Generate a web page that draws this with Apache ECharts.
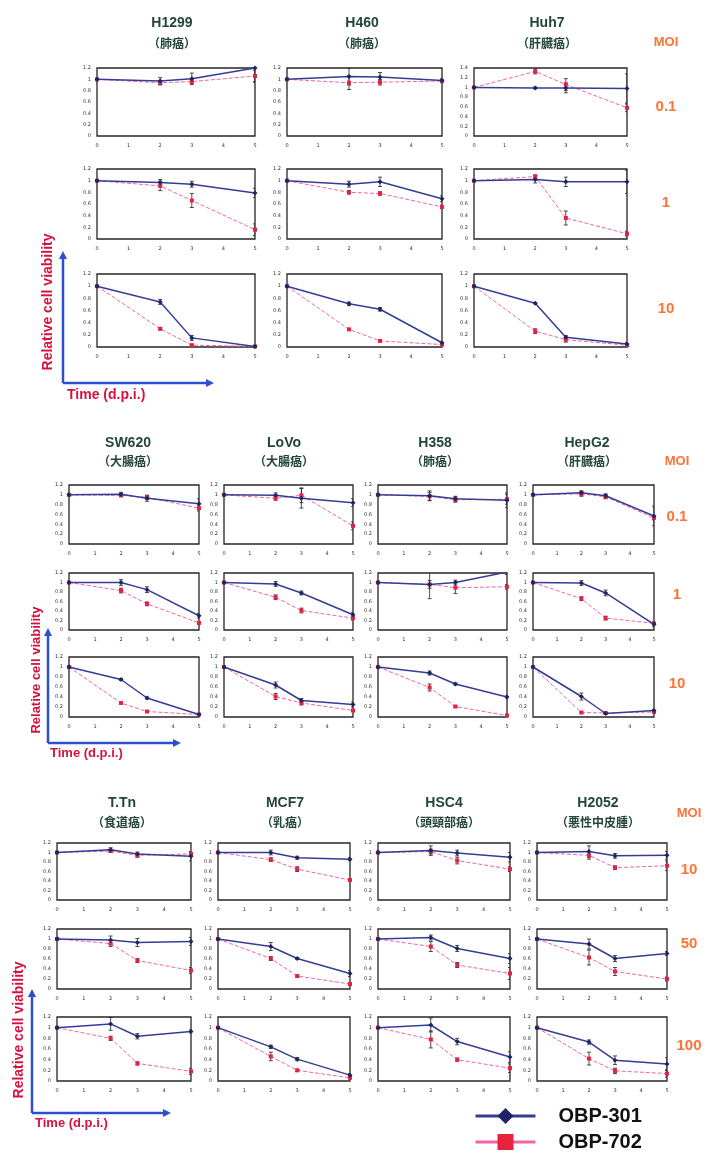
<!DOCTYPE html>
<html>
<head>
<meta charset="utf-8">
<script src="https://cdn.jsdelivr.net/npm/echarts@6/dist/echarts.min.js"></script>
<style>
  html, body { margin: 0; padding: 0; background: #fff; }
  #chart { width: 706px; height: 1153px; }
</style>
</head>
<body>
<div id="chart"></div>
<script>
// days post infection, shared by every small plot
const days = [0, 2, 3, 5];

// ---- panel 1 : rows = MOI, cols = cell lines ----
const p1Cells = ['H1299', 'H460', 'Huh7'];
const p1Types = ['（肺癌）', '（肺癌）', '（肝臓癌）'];
const p1Moi = ['0.1', '1', '10'];
const p1Obp301 = [
  [[1, 0.97, 1.01, 1.2], [1, 1.05, 1.04, 0.98], [1, 0.99, 0.99, 0.98]],
  [[1, 0.97, 0.94, 0.79], [1, 0.94, 0.98, 0.69], [1, 1.02, 0.98, 0.98]],
  [[1, 0.74, 0.15, 0.01], [1, 0.71, 0.62, 0.07], [1, 0.72, 0.16, 0.05]]
];
const p1Obp702 = [
  [[1, 0.94, 0.96, 1.06], [1, 0.94, 0.95, 0.97], [1, 1.33, 1.06, 0.58]],
  [[1, 0.91, 0.66, 0.16], [1, 0.80, 0.78, 0.55], [1, 1.07, 0.36, 0.09]],
  [[1, 0.30, 0.03, 0.01], [1, 0.29, 0.10, 0.04], [1, 0.26, 0.12, 0.03]]
];
const p1Err301 = [
  [[0, 0.06, 0.10, 0.25], [0, 0.15, 0.08, 0.03], [0, 0.02, 0.10, 0.30]],
  [[0, 0.05, 0.05, 0.08], [0, 0.05, 0.08, 0.05], [0, 0.06, 0.08, 0.20]],
  [[0, 0.04, 0.04, 0.01], [0, 0.03, 0.03, 0.01], [0, 0.01, 0.03, 0.02]]
];
const p1Err702 = [
  [[0, 0.04, 0.03, 0.10], [0, 0.12, 0.05, 0.03], [0, 0.05, 0.12, 0.08]],
  [[0, 0.08, 0.12, 0.10], [0, 0.03, 0.03, 0.03], [0, 0.03, 0.12, 0.04]],
  [[0, 0.02, 0.01, 0.01], [0, 0.01, 0.01, 0.01], [0, 0.04, 0.04, 0.01]]
];
const p1YMax = [[1.2, 1.2, 1.4], [1.2, 1.2, 1.2], [1.2, 1.2, 1.2]];

// ---- panel 2 ----
const p2Cells = ['SW620', 'LoVo', 'H358', 'HepG2'];
const p2Types = ['（大腸癌）', '（大腸癌）', '（肺癌）', '（肝臓癌）'];
const p2Moi = ['0.1', '1', '10'];
const p2Obp301 = [
  [[1, 1.01, 0.93, 0.82], [1, 0.99, 0.93, 0.84], [1, 0.98, 0.92, 0.89], [1, 1.04, 0.98, 0.57]],
  [[1, 1.00, 0.85, 0.30], [1, 0.97, 0.78, 0.32], [1, 0.96, 1.00, 1.22], [1, 0.99, 0.78, 0.12]],
  [[1, 0.75, 0.38, 0.05], [1, 0.64, 0.33, 0.25], [1, 0.88, 0.66, 0.40], [1, 0.41, 0.07, 0.13]]
];
const p2Obp702 = [
  [[1, 0.99, 0.95, 0.73], [1, 0.93, 0.99, 0.37], [1, 0.97, 0.90, 0.91], [1, 1.02, 0.96, 0.53]],
  [[1, 0.83, 0.55, 0.15], [1, 0.69, 0.41, 0.25], [1, 0.96, 0.89, 0.91], [1, 0.66, 0.25, 0.14]],
  [[1, 0.28, 0.11, 0.05], [1, 0.41, 0.28, 0.13], [1, 0.59, 0.21, 0.03], [1, 0.09, 0.08, 0.10]]
];
const p2Err301 = [
  [[0, 0.04, 0.06, 0.10], [0, 0.05, 0.20, 0.08], [0, 0.10, 0.05, 0.15], [0, 0.04, 0.04, 0.20]],
  [[0, 0.06, 0.06, 0.05], [0, 0.05, 0.04, 0.05], [0, 0.30, 0.05, 0.05], [0, 0.05, 0.06, 0.05]],
  [[0, 0.02, 0.02, 0.02], [0, 0.06, 0.04, 0.05], [0, 0.04, 0.02, 0.02], [0, 0.07, 0.02, 0.02]]
];
const p2Err702 = [
  [[0, 0.03, 0.04, 0.06], [0, 0.04, 0.15, 0.08], [0, 0.08, 0.05, 0.10], [0, 0.05, 0.04, 0.04]],
  [[0, 0.05, 0.04, 0.03], [0, 0.05, 0.05, 0.04], [0, 0.08, 0.12, 0.05], [0, 0.04, 0.04, 0.02]],
  [[0, 0.02, 0.01, 0.01], [0, 0.06, 0.04, 0.02], [0, 0.07, 0.02, 0.01], [0, 0.01, 0.01, 0.01]]
];

// ---- panel 3 ----
const p3Cells = ['T.Tn', 'MCF7', 'HSC4', 'H2052'];
const p3Types = ['（食道癌）', '（乳癌）', '（頭頸部癌）', '（悪性中皮腫）'];
const p3Moi = ['10', '50', '100'];
const p3Obp301 = [
  [[1, 1.06, 0.97, 0.92], [1, 1.00, 0.89, 0.86], [1, 1.04, 0.99, 0.90], [1, 1.02, 0.93, 0.94]],
  [[1, 0.98, 0.93, 0.95], [1, 0.85, 0.61, 0.31], [1, 1.03, 0.81, 0.61], [1, 0.90, 0.61, 0.71]],
  [[1, 1.07, 0.84, 0.93], [1, 0.64, 0.41, 0.11], [1, 1.05, 0.74, 0.45], [1, 0.73, 0.39, 0.32]]
];
const p3Obp702 = [
  [[1, 1.03, 0.94, 0.97], [1, 0.85, 0.65, 0.42], [1, 1.02, 0.83, 0.65], [1, 0.94, 0.68, 0.72]],
  [[1, 0.91, 0.57, 0.37], [1, 0.61, 0.26, 0.10], [1, 0.85, 0.48, 0.31], [1, 0.63, 0.35, 0.20]],
  [[1, 0.80, 0.33, 0.18], [1, 0.46, 0.20, 0.06], [1, 0.78, 0.40, 0.24], [1, 0.42, 0.19, 0.14]]
];
const p3Err301 = [
  [[0, 0.04, 0.04, 0.10], [0, 0.05, 0.03, 0.03], [0, 0.10, 0.06, 0.10], [0, 0.12, 0.05, 0.08]],
  [[0, 0.08, 0.08, 0.08], [0, 0.08, 0.02, 0.06], [0, 0.05, 0.06, 0.10], [0, 0.10, 0.06, 0.04]],
  [[0, 0.12, 0.05, 0.03], [0, 0.03, 0.03, 0.03], [0, 0.13, 0.06, 0.10], [0, 0.04, 0.08, 0.12]]
];
const p3Err702 = [
  [[0, 0.03, 0.04, 0.04], [0, 0.04, 0.05, 0.03], [0, 0.05, 0.07, 0.05], [0, 0.08, 0.04, 0.10]],
  [[0, 0.06, 0.04, 0.06], [0, 0.04, 0.03, 0.02], [0, 0.10, 0.05, 0.12], [0, 0.15, 0.08, 0.04]],
  [[0, 0.04, 0.03, 0.06], [0, 0.08, 0.02, 0.02], [0, 0.16, 0.03, 0.08], [0, 0.12, 0.05, 0.07]]
];

// layout of each block (pixels)
const panels = [
  {
    cells: p1Cells, types: p1Types, moi: p1Moi, v301: p1Obp301, v702: p1Obp702,
    e301: p1Err301, e702: p1Err702, yMax: p1YMax,
    cols: [[97, 255], [287, 442], [474, 627]],
    rows: [[68, 136], [169, 239], [274, 347]],
    titleX: [172, 362, 547], titleY: [23, 43],
    moiX: 666, moiTitleY: 42, moiY: [107, 203, 309],
    yLabel: { x: 48, y: 302, size: 14 }, time: { x: 67, y: 395, size: 14 },
    arrow: { x: 63, y: 383, top: 252, right: 213 }
  },
  {
    cells: p2Cells, types: p2Types, moi: p2Moi, v301: p2Obp301, v702: p2Obp702,
    e301: p2Err301, e702: p2Err702,
    cols: [[69, 199], [224, 353], [378, 507], [533, 654]],
    rows: [[485, 544], [573, 630], [657, 717]],
    titleX: [128, 284, 435, 587], titleY: [443, 461],
    moiX: 677, moiTitleY: 461, moiY: [517, 595, 684],
    yLabel: { x: 36, y: 670, size: 13 }, time: { x: 50, y: 753, size: 13 },
    arrow: { x: 48, y: 743, top: 629, right: 180 }
  },
  {
    cells: p3Cells, types: p3Types, moi: p3Moi, v301: p3Obp301, v702: p3Obp702,
    e301: p3Err301, e702: p3Err702,
    cols: [[57, 191], [218, 350], [378, 510], [537, 667]],
    rows: [[843, 900], [929, 989], [1017, 1081]],
    titleX: [122, 285, 444, 598], titleY: [803, 822],
    moiX: 689, moiTitleY: 813, moiY: [870, 944, 1046],
    yLabel: { x: 19, y: 1030, size: 14 }, time: { x: 35, y: 1123, size: 13 },
    arrow: { x: 32, y: 1113, top: 990, right: 170 }
  }
];

const navy = '#1f2468';
const navyLine = '#353c95';
const red = '#e8213f';
const pink = '#f165a6';
const titleColor = '#24463a';
const moiColor = '#ff7336';
const labelRed = '#d5123d';
const arrowBlue = '#2d4fcf';

const grids = [], xAxes = [], yAxes = [], series = [], graphics = [];

function errorSeries(gi, errData) {
  return {
    type: 'custom', xAxisIndex: gi, yAxisIndex: gi, silent: true, clip: true, z: 3,
    data: errData,
    renderItem: function (params, api) {
      const x = api.value(0);
      const lo = api.coord([x, api.value(1)]);
      const hi = api.coord([x, api.value(2)]);
      const w = 2;
      const st = { stroke: '#222', lineWidth: 0.8 };
      return {
        type: 'group',
        children: [
          { type: 'line', shape: { x1: lo[0], y1: lo[1], x2: hi[0], y2: hi[1] }, style: st },
          { type: 'line', shape: { x1: lo[0] - w, y1: lo[1], x2: lo[0] + w, y2: lo[1] }, style: st },
          { type: 'line', shape: { x1: hi[0] - w, y1: hi[1], x2: hi[0] + w, y2: hi[1] }, style: st }
        ]
      };
    }
  };
}

function addText(x, y, text, font, fill, extra) {
  graphics.push(Object.assign({
    type: 'text', x: x, y: y, silent: true,
    style: { text: text, font: font, fill: fill, align: 'center', verticalAlign: 'middle' }
  }, extra || {}));
}

function addArrow(a) {
  const st = { stroke: arrowBlue, lineWidth: 2.5 };
  graphics.push({ type: 'line', silent: true, shape: { x1: a.x, y1: a.y, x2: a.x, y2: a.top + 5 }, style: st });
  graphics.push({ type: 'line', silent: true, shape: { x1: a.x, y1: a.y, x2: a.right - 5, y2: a.y }, style: st });
  graphics.push({ type: 'polygon', silent: true, shape: { points: [[a.x - 4, a.top + 7], [a.x + 4, a.top + 7], [a.x, a.top - 1]] }, style: { fill: arrowBlue } });
  graphics.push({ type: 'polygon', silent: true, shape: { points: [[a.right - 7, a.y - 4], [a.right - 7, a.y + 4], [a.right + 1, a.y]] }, style: { fill: arrowBlue } });
}

panels.forEach(function (p) {
  p.rows.forEach(function (r, ri) {
    p.cols.forEach(function (c, ci) {
      const gi = grids.length;
      grids.push({
        left: c[0], top: r[0], width: c[1] - c[0], height: r[1] - r[0],
        show: true, borderColor: '#262626', borderWidth: 1.3, backgroundColor: '#fff'
      });
      xAxes.push({
        gridIndex: gi, type: 'value', min: 0, max: 5, interval: 1,
        axisLine: { show: false }, axisTick: { show: false }, splitLine: { show: false },
        axisLabel: { fontSize: 5, color: '#333', margin: 7, fontFamily: 'DejaVu Sans' }
      });
      const yMax = p.yMax ? p.yMax[ri][ci] : 1.2;
      yAxes.push({
        gridIndex: gi, type: 'value', min: 0, max: yMax, interval: 0.2,
        axisLine: { show: false }, axisTick: { show: false }, splitLine: { show: false },
        axisLabel: { fontSize: 5, color: '#333', margin: 6, fontFamily: 'DejaVu Sans' }
      });
      const a = p.v301[ri][ci], b = p.v702[ri][ci];
      const ea = p.e301[ri][ci], eb = p.e702[ri][ci];
      series.push({
        name: 'OBP-702', type: 'line', xAxisIndex: gi, yAxisIndex: gi, z: 4,
        data: days.map(function (d, i) { return [d, b[i]]; }),
        symbol: 'rect', symbolSize: 4,
        itemStyle: { color: red },
        lineStyle: { color: pink, width: 1, type: [4, 2] }
      });
      series.push({
        name: 'OBP-301', type: 'line', xAxisIndex: gi, yAxisIndex: gi, z: 5,
        data: days.map(function (d, i) { return [d, a[i]]; }),
        symbol: 'diamond', symbolSize: 5,
        itemStyle: { color: navy },
        lineStyle: { color: navyLine, width: 1.5 }
      });
      const errs = [];
      days.forEach(function (d, i) {
        if (ea[i] > 0) errs.push([d, a[i] - ea[i], a[i] + ea[i]]);
        if (eb[i] > 0) errs.push([d, b[i] - eb[i], b[i] + eb[i]]);
      });
      series.push(errorSeries(gi, errs));
    });
  });

  p.cells.forEach(function (name, i) {
    addText(p.titleX[i], p.titleY[0], name, 'bold 14px "Liberation Sans", Arial, sans-serif', titleColor);
    addText(p.titleX[i], p.titleY[1], p.types[i], 'bold 12px "Noto Sans CJK JP", sans-serif', titleColor);
  });
  addText(p.moiX, p.moiTitleY, 'MOI', 'bold 13px "Liberation Sans", Arial, sans-serif', moiColor);
  p.moi.forEach(function (m, i) {
    addText(p.moiX, p.moiY[i], m, 'bold 15px "Liberation Sans", Arial, sans-serif', moiColor);
  });
  addText(p.yLabel.x, p.yLabel.y, 'Relative cell viability',
    'bold ' + p.yLabel.size + 'px "Liberation Sans", Arial, sans-serif', labelRed, { rotation: Math.PI / 2 });
  graphics.push({
    type: 'text', x: p.time.x, y: p.time.y, silent: true,
    style: { text: 'Time (d.p.i.)', font: 'bold ' + p.time.size + 'px "Liberation Sans", Arial, sans-serif', fill: labelRed, align: 'left', verticalAlign: 'middle' }
  });
  addArrow(p.arrow);
});

const chart = echarts.init(document.getElementById('chart'), null, { renderer: 'canvas' });
chart.setOption({
  animation: false,
  backgroundColor: '#fff',
  grid: grids,
  xAxis: xAxes,
  yAxis: yAxes,
  series: series,
  graphic: graphics,
  legend: {
    orient: 'vertical', left: 474, top: 1106, padding: 0,
    itemWidth: 60, itemHeight: 20, itemGap: 6,
    data: ['OBP-301', 'OBP-702'],
    lineStyle: { width: 3, type: 'solid' },
    textStyle: { fontSize: 20, fontWeight: 'bold', color: '#111', fontFamily: '"Liberation Sans", Arial, sans-serif', padding: [0, 0, 0, 18] },
    selectedMode: false
  }
});
</script>
</body>
</html>
